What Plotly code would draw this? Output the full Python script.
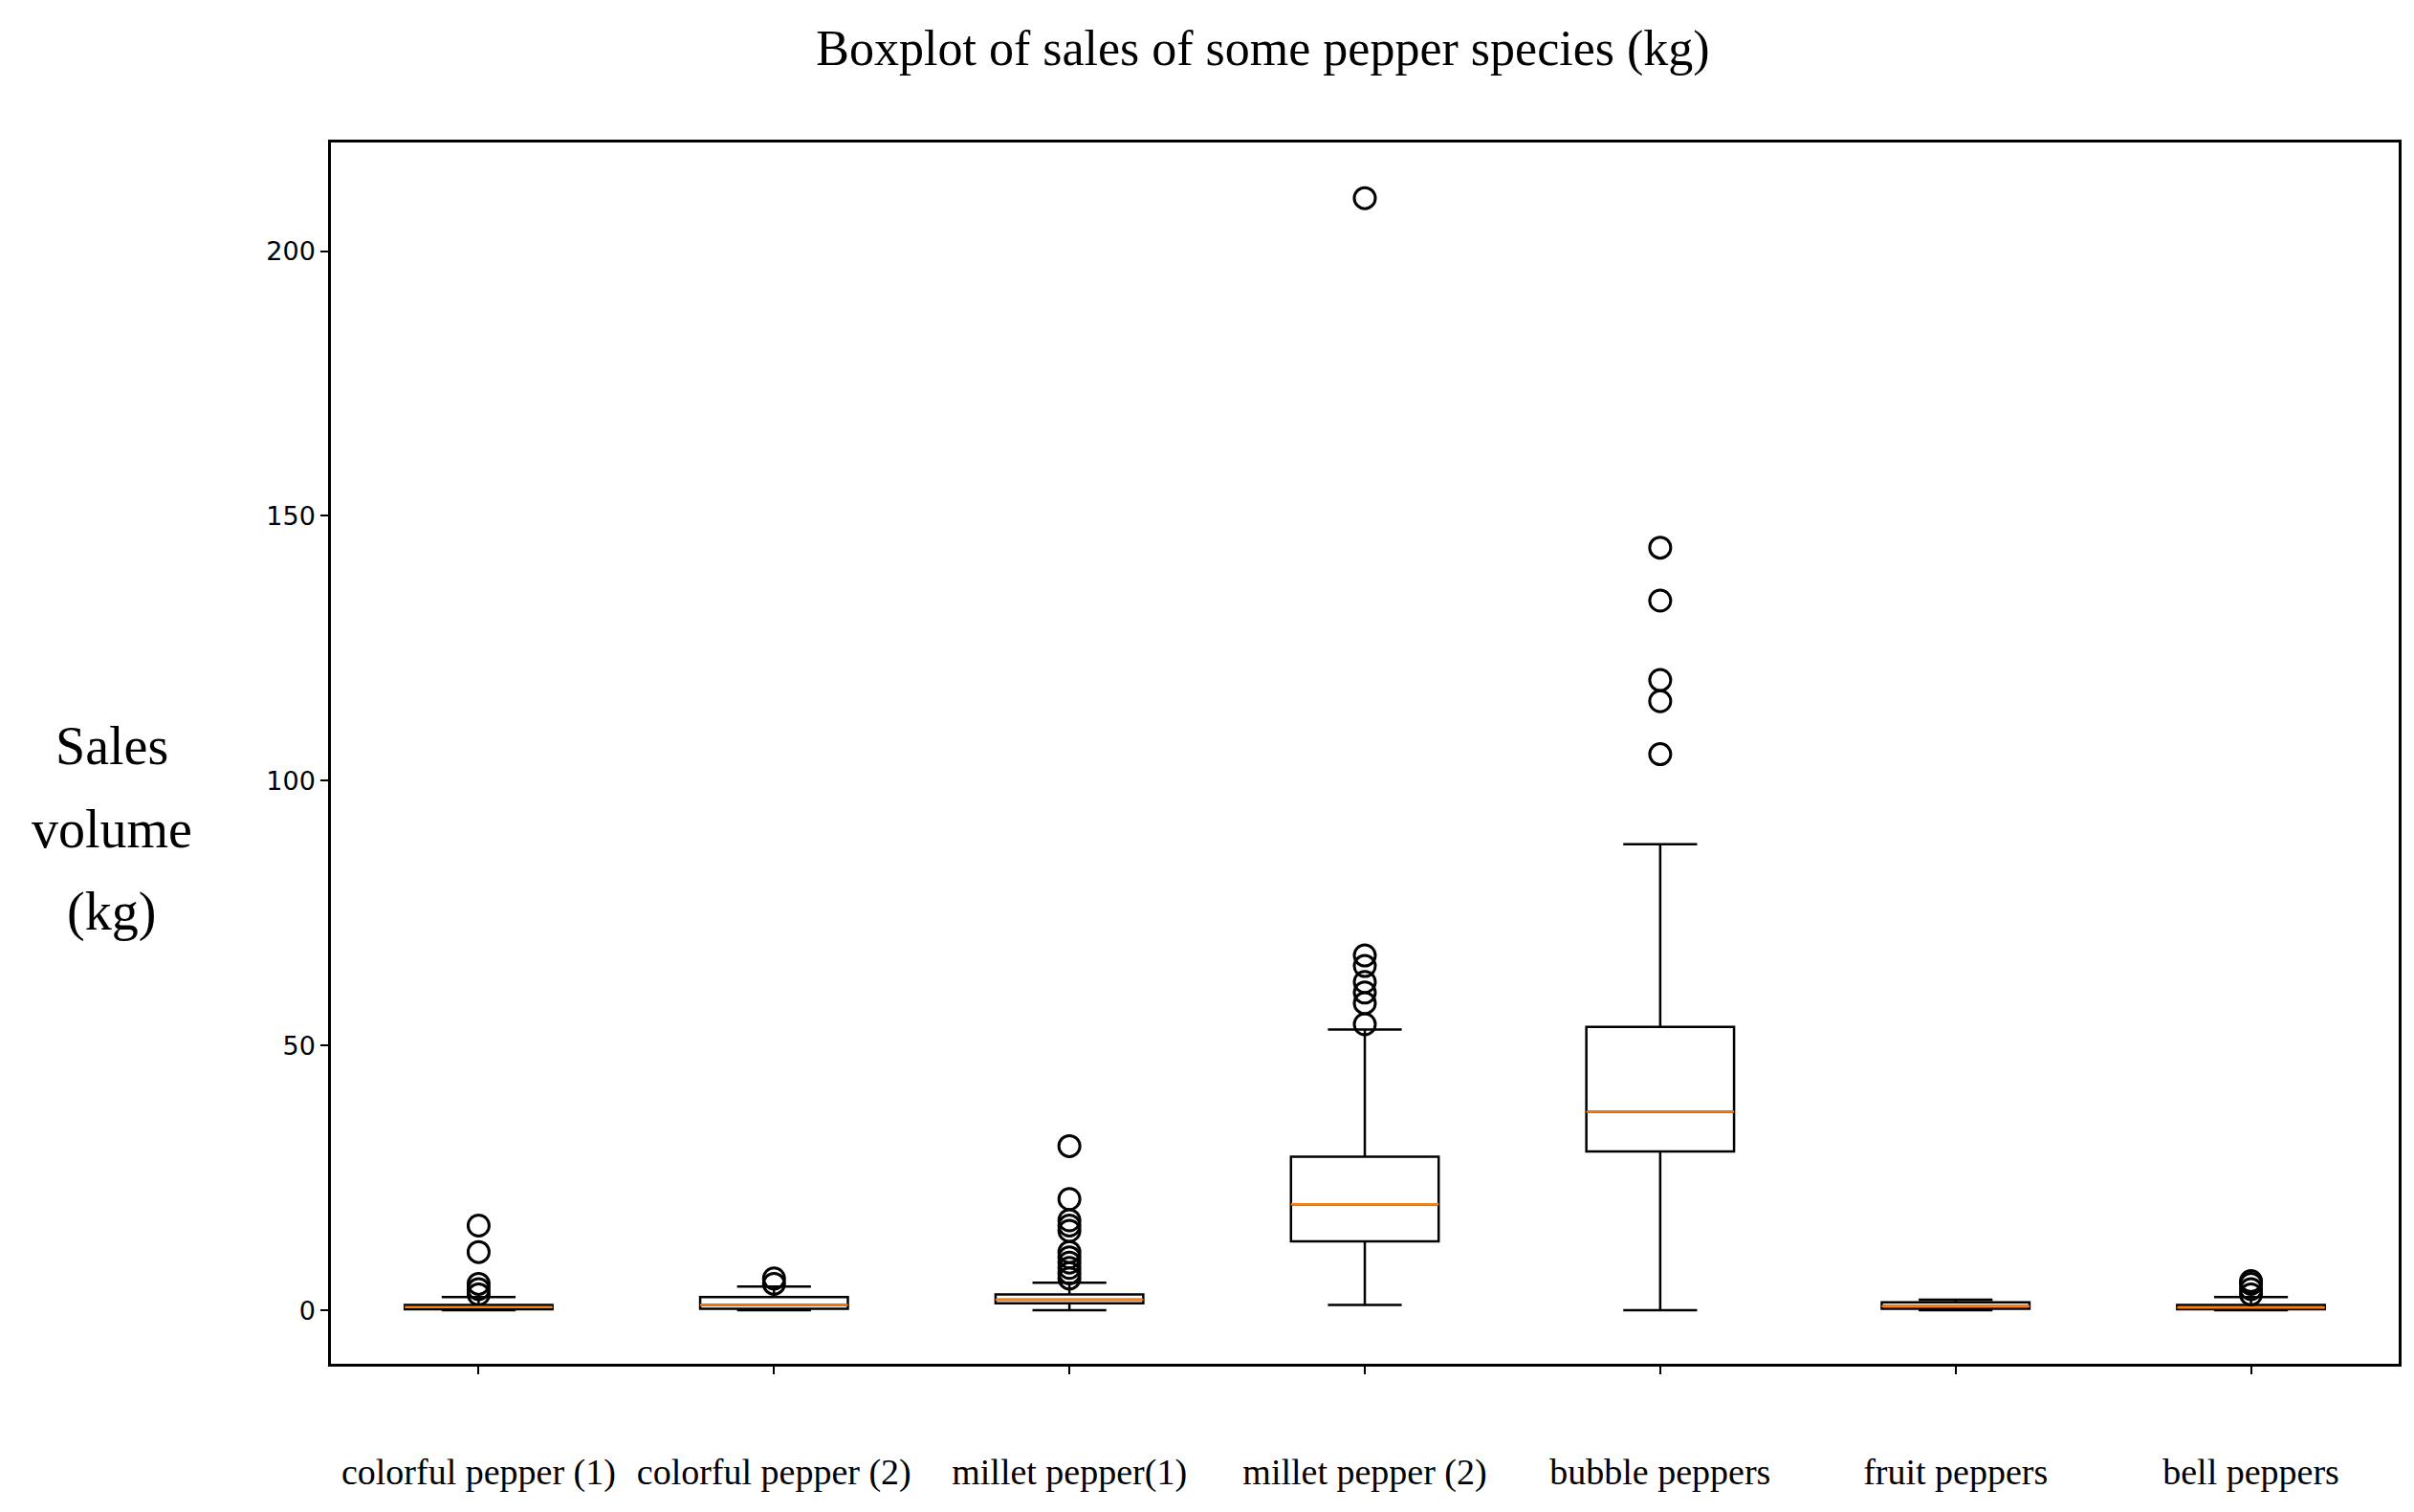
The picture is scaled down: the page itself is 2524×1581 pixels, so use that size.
import plotly.graph_objects as go

categories = ["colorful pepper (1)", "colorful pepper (2)", "millet pepper(1)", "millet pepper (2)",
              "bubble peppers", "fruit peppers", "bell peppers"]
q1 = [0.2, 0.3, 1.3, 13, 30, 0.3, 0.2]
median = [0.6, 1.0, 2.0, 20, 37.5, 0.8, 0.5]
q3 = [1.0, 2.5, 3.0, 29, 53.5, 1.5, 1.0]
lowerfence = [0, 0, 0, 1, 0, 0, 0]
upperfence = [2.5, 4.5, 5.2, 53, 88, 2.0, 2.5]
outliers = [
    [3, 4, 5, 11, 16],
    [5, 6],
    [6, 7, 8, 9, 10, 11, 15, 16, 17, 21, 31],
    [54, 58, 60, 62, 65, 67, 210],
    [105, 115, 119, 134, 144],
    [],
    [3, 4, 5, 5.5],
]
yticks = [0, 50, 100, 150, 200]
ytitle_lines = ["Sales", "volume", "(kg)"]

fig = go.Figure()
for i, c in enumerate(categories):
    fig.add_trace(go.Box(
        x=[c], q1=[q1[i]], median=[median[i]], q3=[q3[i]],
        lowerfence=[lowerfence[i]], upperfence=[upperfence[i]],
        width=0.5, whiskerwidth=0.5, fillcolor="rgba(0,0,0,0)",
        line=dict(color="black", width=2.5), boxpoints=False, showlegend=False))
    fig.add_trace(go.Scatter(
        x=[i - 0.25, i + 0.25], y=[median[i], median[i]], mode="lines",
        line=dict(color="#ff7f0e", width=2.5), showlegend=False, xaxis="x2"))
    if outliers[i]:
        fig.add_trace(go.Scatter(
            x=[c] * len(outliers[i]), y=outliers[i], mode="markers",
            marker=dict(symbol="circle-open", size=22, color="black", line=dict(width=3)),
            showlegend=False))

annots = []
for k, t in enumerate(ytitle_lines):
    annots.append(dict(text=t, xref="paper", yref="paper", x=-0.106, y=0.506 - 0.068 * k,
                       xanchor="center", yanchor="middle", showarrow=False,
                       font=dict(family="Liberation Serif", size=56, color="black")))

fig.update_layout(
    width=2524, height=1581, plot_bgcolor="white", paper_bgcolor="white",
    margin=dict(l=338, r=24, t=141, b=163),
    title=dict(text="Boxplot of sales of some pepper species (kg)", x=0.52, xanchor="center",
               y=0.985, yanchor="top", font=dict(family="Liberation Serif", size=52, color="black")),
    xaxis=dict(type="category", categoryorder="array", categoryarray=categories, range=[-0.5, 6.5],
               showline=True, linecolor="black", linewidth=2.5, mirror=True, ticks="outside",
               ticklen=8, tickwidth=2, tickcolor="black", ticklabelstandoff=70,
               tickfont=dict(family="Liberation Serif", size=38, color="black"), showgrid=False),
    xaxis2=dict(overlaying="x", range=[-0.5, 6.5], visible=False),
    yaxis=dict(range=[-10.1, 220.5], tickvals=yticks, showline=True, linecolor="black", linewidth=2.5,
               mirror=True, ticks="outside", ticklen=8, tickwidth=2, tickcolor="black",
               tickfont=dict(family="DejaVu Sans", size=27, color="black"), showgrid=False, zeroline=False),
    annotations=annots,
)
fig.write_html("out.html")
